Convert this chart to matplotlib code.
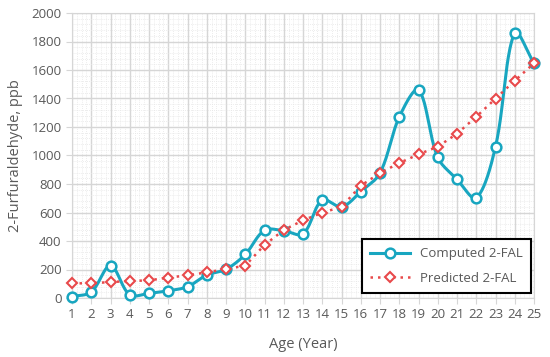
import numpy as np
import matplotlib
matplotlib.use("Agg")
import matplotlib.pyplot as plt
from matplotlib.ticker import MultipleLocator

age = list(range(1, 26))
computed = [10, 42, 227, 22, 33, 51, 79, 161, 201, 306, 475, 472, 450, 688, 639,
            746, 877, 1270, 1460, 987, 833, 702, 1062, 1862, 1647]
predicted = [103, 103, 112, 119, 124, 143, 159, 180, 203, 227, 372, 477, 545, 599, 639,
             788, 877, 947, 1008, 1062, 1153, 1272, 1399, 1525, 1647]
y_ticks = list(range(0, 2001, 200))


def smooth_screen(ax, x, y, n=40, t=1 / 3):
    """Excel-like smoothed line: chord-weighted Bezier in screen space."""
    P = ax.transData.transform(np.column_stack([x, y]))
    N = len(P)
    out = []
    s = np.linspace(0, 1, n, endpoint=False)[:, None]
    for i in range(N - 1):
        p0 = P[i - 1] if i > 0 else P[i]
        p1, p2 = P[i], P[i + 1]
        p3 = P[i + 2] if i + 2 < N else P[i + 1]
        d01 = np.hypot(*(p1 - p0)); d12 = np.hypot(*(p2 - p1)); d23 = np.hypot(*(p3 - p2))
        c1 = p1 + (p2 - p0) * t * d12 / (d01 + d12)
        c2 = p2 - (p3 - p1) * t * d12 / (d12 + d23)
        seg = ((1 - s) ** 3) * p1 + 3 * ((1 - s) ** 2) * s * c1 + 3 * (1 - s) * s ** 2 * c2 + s ** 3 * p2
        out.append(seg)
    out.append(P[-1][None, :])
    pts = ax.transData.inverted().transform(np.vstack(out))
    return pts[:, 0], pts[:, 1]


plt.rcParams['font.family'] = ['Open Sans', 'DejaVu Sans']
gray = '#595959'
teal = '#18A6C0'
red = '#E8494B'

fig = plt.figure(figsize=(5.5, 3.57), dpi=100)
ax = fig.add_axes([72 / 550, 1 - 298 / 357, (534 - 72) / 550, (298 - 13) / 357])
ax.set_xlim(1, 25)
ax.set_ylim(0, 2000)

sx, sy = smooth_screen(ax, age, computed)
ax.plot(sx, sy, color=teal, lw=2.2, zorder=3, clip_on=False)
ax.plot(age, computed, ls='none', marker='o', ms=7, mfc='white', mec=teal, mew=1.8,
        zorder=4, clip_on=False)
ax.plot(age, predicted, color=red, ls=(0, (1, 2)), lw=1.8, marker='D', ms=5.5,
        mfc='white', mec=red, mew=1.5, zorder=5, clip_on=False)

# legend handles
h1, = ax.plot([], [], color=teal, lw=2.2, marker='o', ms=7, mfc='white', mec=teal, mew=1.8)
h2, = ax.plot([], [], color=red, ls=(0, (1, 2)), lw=1.8, marker='D', ms=5.5,
              mfc='white', mec=red, mew=1.5)
leg = ax.legend([h1, h2], ['Computed 2-FAL', 'Predicted 2-FAL'], loc='lower right',
                frameon=True, fancybox=False, edgecolor='black', framealpha=1,
                fontsize=9.5, labelcolor=gray, handlelength=3.0, borderpad=0.6,
                labelspacing=0.9, borderaxespad=0,
                bbox_to_anchor=(1 - 3 / 462, 5 / 285))
leg.get_frame().set_linewidth(1.5)
leg.set_zorder(10)

ax.set_xticks(age)
ax.set_yticks(y_ticks)
ax.xaxis.set_minor_locator(MultipleLocator(0.25))
ax.yaxis.set_minor_locator(MultipleLocator(40))
ax.grid(which='major', color='#d6d6d6', lw=1.0, zorder=0)
ax.grid(which='minor', color='#e6e6e6', lw=0.6, ls=(0, (1, 1.5)), zorder=0)
ax.set_axisbelow(True)
for s in ax.spines.values():
    s.set_color('#d6d6d6')
ax.tick_params(axis='both', which='major', colors='#d6d6d6', labelcolor=gray,
               labelsize=9.5, length=4)
ax.tick_params(axis='x', pad=3)
ax.tick_params(which='minor', length=0)
ax.set_xlabel('Age (Year)', color=gray, fontsize=10.5, labelpad=12)
ax.set_ylabel('2-Furfuraldehyde, ppb', color=gray, fontsize=10.5, labelpad=6)

fig.savefig('out.png', dpi=100)
